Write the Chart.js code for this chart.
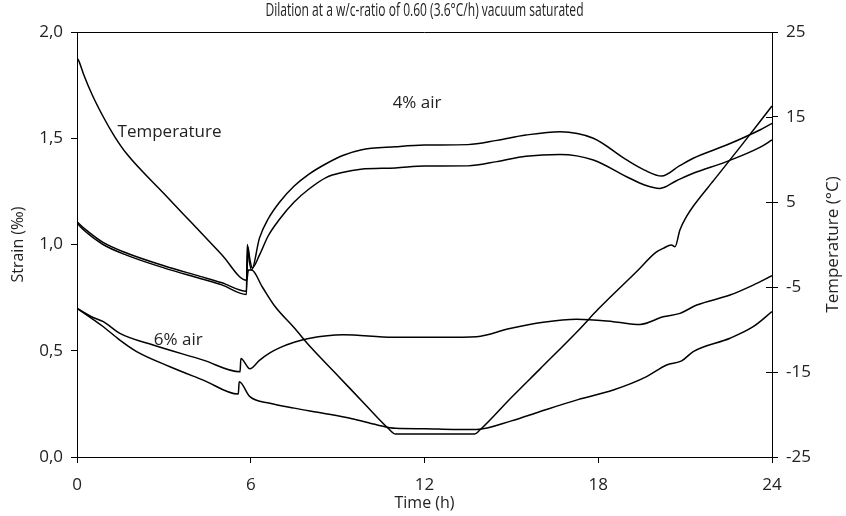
<!DOCTYPE html>
<html>
<head>
<meta charset="utf-8">
<script src="https://cdn.jsdelivr.net/npm/chart.js@4"></script>
<style>
  html, body { margin: 0; padding: 0; background: #fff; }
  #wrap { width: 846px; height: 516px; }
</style>
</head>
<body>
<div id="wrap"><canvas id="chart" width="846" height="516"></canvas></div>
<script>
// values
const chartTitle = 'Dilation at a w/c-ratio of 0.60 (3.6°C/h) vacuum saturated';

const xTicks = [0, 6, 12, 18, 24];
const strainTicks = [0, 0.5, 1.0, 1.5, 2.0];
const tempTicks = [-25, -15, -5, 5, 15, 25];

// temperature (°C) vs time (h)
const tempTime = [0, 0.05, 0.22, 0.5, 0.91, 1.3, 1.71, 3, 4, 5, 5.86, 5.92, 6.03, 6.4, 6.84, 7.5, 8.05, 9, 10, 10.74, 11.0, 12, 13, 13.73, 13.92, 15, 16, 17.37, 18, 19.32, 20.0, 20.24, 20.53, 20.65, 20.82, 21.05, 21.28, 22, 23, 24];
const tempC = [21.9, 21.7, 20.1, 17.8, 15.0, 12.7, 10.7, 6.0, 2.4, -1.2, -4.2, -3.0, -3.0, -5.0, -7.3, -9.8, -12.0, -15.4, -19.0, -21.6, -22.3, -22.3, -22.3, -22.3, -21.8, -18.0, -14.6, -9.9, -7.6, -3.2, -0.9, -0.45, -0.06, -0.26, 1.7, 3.3, 4.5, 7.6, 11.9, 16.3];

// 4% air, two specimens (strain ‰)
const air4aTime = [0, 0.3, 0.9, 1.71, 3, 4.25, 5.0, 5.85, 5.88, 5.95, 6.03, 6.3, 6.6, 7.0, 7.5, 8.0, 8.6, 9.2, 9.8, 11, 12, 13.5, 14.5, 15.5, 16.68, 17.83, 18.98, 19.6, 20.19, 20.8, 21.28, 22.43, 23.58, 24];
const air4aStrain = [1.107, 1.07, 1.01, 0.96, 0.90, 0.85, 0.82, 0.78, 1.0, 0.92, 0.88, 1.03, 1.12, 1.20, 1.275, 1.33, 1.38, 1.42, 1.445, 1.46, 1.468, 1.47, 1.49, 1.515, 1.531, 1.50, 1.398, 1.35, 1.322, 1.37, 1.406, 1.468, 1.539, 1.57];

const air4bTime = [0, 0.3, 0.9, 1.71, 3, 4.25, 5.0, 5.85, 5.9, 5.97, 6.05, 6.3, 6.6, 7.0, 7.5, 8.0, 8.6, 9.2, 9.8, 11, 12, 13.5, 14.5, 15.5, 16.68, 17.83, 18.98, 19.6, 20.13, 20.7, 21.28, 22.43, 23.58, 24];
const air4bStrain = [1.10, 1.06, 1.00, 0.95, 0.89, 0.84, 0.81, 0.765, 0.99, 0.93, 0.89, 0.95, 1.04, 1.12, 1.20, 1.26, 1.315, 1.34, 1.354, 1.36, 1.369, 1.37, 1.39, 1.415, 1.424, 1.398, 1.319, 1.28, 1.264, 1.30, 1.335, 1.39, 1.457, 1.492];

// 6% air, two specimens (strain ‰)
const air6aTime = [0, 0.5, 0.91, 1.48, 2.63, 4.36, 5.63, 5.66, 5.97, 6.3, 6.66, 7.01, 7.5, 8.0, 9.2, 10.92, 12.65, 13.8, 14.95, 16.1, 17.25, 18.52, 19.44, 20.24, 20.82, 21.4, 22.55, 23.35, 24];
const air6aStrain = [0.70, 0.66, 0.637, 0.582, 0.527, 0.456, 0.401, 0.464, 0.415, 0.455, 0.49, 0.515, 0.54, 0.558, 0.575, 0.563, 0.563, 0.566, 0.605, 0.634, 0.648, 0.637, 0.624, 0.66, 0.676, 0.715, 0.762, 0.809, 0.853];

const air6bTime = [0, 0.91, 1.48, 2.06, 3.21, 4.36, 5.57, 5.6, 5.97, 6.66, 7.5, 8.5, 9.5, 10.37, 11, 12, 13, 13.8, 15, 15.97, 17.3, 18.52, 19.67, 20.36, 20.88, 21.28, 22.55, 23.35, 24];
const air6bStrain = [0.70, 0.613, 0.55, 0.496, 0.425, 0.362, 0.296, 0.354, 0.284, 0.253, 0.23, 0.206, 0.18, 0.151, 0.135, 0.133, 0.13, 0.13, 0.17, 0.213, 0.27, 0.315, 0.378, 0.433, 0.452, 0.496, 0.559, 0.613, 0.684];

// in-plot labels (time h, strain ‰)
const noteText = ['Temperature', '4% air', '6% air'];
const noteTime = [1.4, 10.9, 2.65];
const noteStrain = [1.53, 1.666, 0.55];

const pts = (xs, ys) => xs.map((x, i) => ({ x: x, y: ys[i] }));

const FONT = '"Open Sans", "Noto Sans", sans-serif';

const lineStyle = {
  borderColor: '#000',
  borderWidth: 1.5,
  pointRadius: 0,
  fill: false,
  cubicInterpolationMode: 'monotone',
};

const extras = {
  id: 'extras',
  afterDraw(chart) {
    const ctx = chart.ctx;
    const a = chart.chartArea;
    const xs = chart.scales.x;
    const ys = chart.scales.y;
    const yt = chart.scales.yT;
    ctx.save();
    // top frame line
    ctx.strokeStyle = '#000';
    ctx.lineWidth = 1;
    ctx.beginPath();
    ctx.moveTo(a.left, a.top + 0.5);
    ctx.lineTo(a.right, a.top + 0.5);
    ctx.stroke();
    // right ticks also reach inside
    tempTicks.forEach(v => {
      const py = Math.round(yt.getPixelForValue(v)) + 0.5;
      ctx.beginPath();
      ctx.moveTo(a.right - 6, py);
      ctx.lineTo(a.right, py);
      ctx.stroke();
    });
    ctx.fillStyle = '#222';
    // title
    ctx.font = '18px ' + FONT;
    ctx.textAlign = 'center';
    ctx.textBaseline = 'middle';
    ctx.fillText(chartTitle, (a.left + a.right) / 2, 11, 318);
    // right axis title, reading bottom to top
    ctx.save();
    ctx.translate(833, (a.top + a.bottom) / 2);
    ctx.rotate(-Math.PI / 2);
    ctx.font = '17px ' + FONT;
    ctx.fillText('Temperature (°C)', 0, 0, 150);
    ctx.restore();
    // curve labels
    ctx.font = '17px ' + FONT;
    ctx.textAlign = 'left';
    noteText.forEach((t, i) => {
      ctx.fillText(t, xs.getPixelForValue(noteTime[i]), ys.getPixelForValue(noteStrain[i]));
    });
    ctx.restore();
  }
};

new Chart(document.getElementById('chart'), {
  type: 'line',
  data: {
    datasets: [
      { label: 'Temperature', data: pts(tempTime, tempC), yAxisID: 'yT', ...lineStyle },
      { label: '4% air a', data: pts(air4aTime, air4aStrain), yAxisID: 'y', ...lineStyle },
      { label: '4% air b', data: pts(air4bTime, air4bStrain), yAxisID: 'y', ...lineStyle },
      { label: '6% air a', data: pts(air6aTime, air6aStrain), yAxisID: 'y', ...lineStyle },
      { label: '6% air b', data: pts(air6bTime, air6bStrain), yAxisID: 'y', ...lineStyle },
    ],
  },
  options: {
    responsive: false,
    maintainAspectRatio: false,
    animation: false,
    layout: { padding: { top: 32, left: 0, right: 0, bottom: 0 } },
    plugins: {
      legend: { display: false },
      title: { display: false },
      tooltip: { enabled: false },
    },
    scales: {
      x: {
        type: 'linear',
        min: 0,
        max: 24,
        afterFit: s => { s.height = 59; },
        afterBuildTicks: s => { s.ticks = xTicks.map(v => ({ value: v })); },
        grid: { drawOnChartArea: false, drawTicks: true, tickLength: 6, color: '#000' },
        border: { color: '#000', width: 1 },
        ticks: { color: '#222', font: { family: FONT, size: 17 }, padding: 12, maxRotation: 0 },
        title: { display: true, text: 'Time (h)', color: '#222', font: { family: FONT, size: 16 }, padding: { top: 0, bottom: 3 } },
      },
      y: {
        position: 'left',
        min: 0,
        max: 2,
        afterFit: s => { s.width = 77; },
        afterBuildTicks: s => { s.ticks = strainTicks.map(v => ({ value: v })); },
        grid: { drawOnChartArea: false, drawTicks: true, tickLength: 6, color: '#000' },
        border: { color: '#000', width: 1 },
        ticks: {
          color: '#222',
          font: { family: FONT, size: 17 },
          padding: 8,
          callback: v => v.toFixed(1).replace('.', ','),
        },
        title: { display: true, text: 'Strain (‰)', color: '#222', font: { family: FONT, size: 16 }, padding: { top: 9, bottom: 0 } },
      },
      yT: {
        position: 'right',
        min: -25,
        max: 25,
        afterFit: s => { s.width = 74; },
        afterBuildTicks: s => { s.ticks = tempTicks.map(v => ({ value: v })); },
        grid: { drawOnChartArea: false, drawTicks: true, tickLength: 6, color: '#000' },
        border: { color: '#000', width: 1 },
        ticks: { color: '#222', font: { family: FONT, size: 17 }, padding: 8 },
      },
    },
  },
  plugins: [extras],
});
</script>
</body>
</html>
